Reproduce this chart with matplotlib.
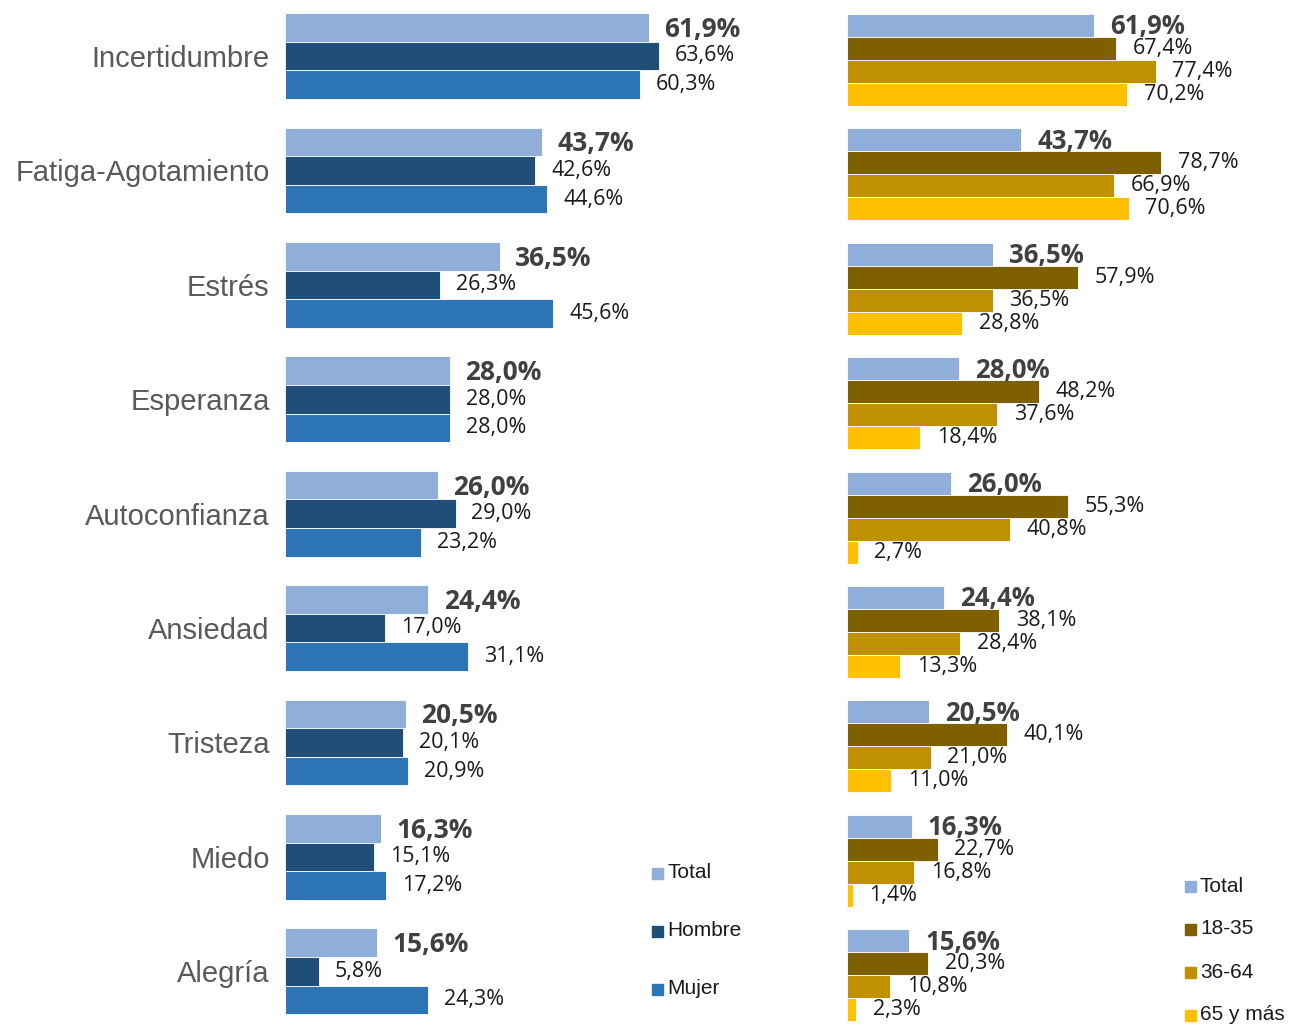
import matplotlib
matplotlib.use("Agg")
import matplotlib.pyplot as plt
from matplotlib.patches import Rectangle

categories = ["Incertidumbre", "Fatiga-Agotamiento", "Estrés", "Esperanza",
              "Autoconfianza", "Ansiedad", "Tristeza", "Miedo", "Alegría"]
total = [61.9, 43.7, 36.5, 28.0, 26.0, 24.4, 20.5, 16.3, 15.6]
hombre = [63.6, 42.6, 26.3, 28.0, 29.0, 17.0, 20.1, 15.1, 5.8]
mujer = [60.3, 44.6, 45.6, 28.0, 23.2, 31.1, 20.9, 17.2, 24.3]
edad_18_35 = [67.4, 78.7, 57.9, 48.2, 55.3, 38.1, 40.1, 22.7, 20.3]
edad_36_64 = [77.4, 66.9, 36.5, 37.6, 40.8, 28.4, 21.0, 16.8, 10.8]
edad_65 = [70.2, 70.6, 28.8, 18.4, 2.7, 13.3, 11.0, 1.4, 2.3]

left_series = ["Total", "Hombre", "Mujer"]
right_series = ["Total", "18-35", "36-64", "65 y más"]

C_TOTAL = "#8FAFDA"
C_HOMBRE = "#1F4E79"
C_MUJER = "#2E75B6"
C_18 = "#7F6000"
C_36 = "#BF9000"
C_65 = "#FFC000"

W, H = 1289, 1025
fig = plt.figure(figsize=(W / 100, H / 100), dpi=100)

OPEN = ["Open Sans", "DejaVu Sans"]
ARIAL = ["Liberation Sans", "DejaVu Sans"]


def fmt(v):
    return f"{v:.1f}".replace(".", ",") + "%"


def make_ax(x0, x1, scale, c0, spacing):
    ax = fig.add_axes([x0 / W, 0, (x1 - x0) / W, 1])
    ax.set_xlim(0, (x1 - x0) / scale)
    top = -c0 / spacing
    bottom = (H - c0) / spacing
    ax.set_ylim(bottom, top)
    for s in ax.spines.values():
        s.set_visible(False)
    ax.set_xticks([])
    ax.tick_params(length=0)
    return ax


n = len(categories)
idx = list(range(n))

# ---- left chart ----
axL = make_ax(285, 800, 5.88, 56, 114.4)
hL = 0.25
left_data = [total, hombre, mujer]
left_cols = [C_TOTAL, C_HOMBRE, C_MUJER]
for k, (vals, col) in enumerate(zip(left_data, left_cols)):
    off = (k - 1) * hL
    ys = [i + off for i in idx]
    axL.barh(ys, vals, height=hL, color=col, edgecolor="white", linewidth=0.6)
    for y, v in zip(ys, vals):
        if k == 0:
            axL.annotate(fmt(v), (v, y), xytext=(11, -1.5), textcoords="offset points",
                         va="center", ha="left", fontsize=19, fontweight="bold",
                         color="#404040", family=OPEN, zorder=5)
        else:
            axL.annotate(fmt(v), (v, y), xytext=(11.5, 0), textcoords="offset points",
                         va="center", ha="left", fontsize=15.5,
                         color="#1a1a1a", family=OPEN, zorder=5)
axL.set_yticks(idx)
axL.set_yticklabels(categories, fontsize=21, color="#595959", family=ARIAL)
axL.tick_params(axis="y", pad=11)

# ---- right chart ----
axR = make_ax(847, W, 3.99, 60, 114.4)
axR.set_yticks([])
hR = 0.201
right_data = [total, edad_18_35, edad_36_64, edad_65]
right_cols = [C_TOTAL, C_18, C_36, C_65]
for k, (vals, col) in enumerate(zip(right_data, right_cols)):
    off = (k - 1.5) * hR
    ys = [i + off for i in idx]
    axR.barh(ys, vals, height=hR, color=col, edgecolor="white", linewidth=0.6)
for k, (vals, col) in enumerate(zip(right_data, right_cols)):
    off = (k - 1.5) * hR
    ys = [i + off for i in idx]
    for y, v in zip(ys, vals):
        if k == 0:
            axR.annotate(fmt(v), (v, y), xytext=(11.5, -1), textcoords="offset points",
                         va="center", ha="left", fontsize=18.5, fontweight="bold",
                         color="#404040", family=OPEN, zorder=5)
        else:
            axR.annotate(fmt(v), (v, y), xytext=(12, 0), textcoords="offset points",
                         va="center", ha="left", fontsize=15.5,
                         color="#1a1a1a", family=OPEN, zorder=5)


# ---- legends ----
def legend(x, ys, labels, cols):
    for y, lab, col in zip(ys, labels, cols):
        fig.add_artist(Rectangle((x / W, 1 - (y + 5.5) / H), 11 / W, 11 / H,
                                 transform=fig.transFigure, color=col))
        fig.text((x + 15) / W, 1 - y / H, lab, va="center", ha="left",
                 fontsize=15, color="#1a1a1a", family=ARIAL)


legend(652, [873, 931, 989], left_series, left_cols)
legend(1185, [886, 929, 972, 1015], right_series, right_cols)

fig.savefig("out.png", dpi=100)
